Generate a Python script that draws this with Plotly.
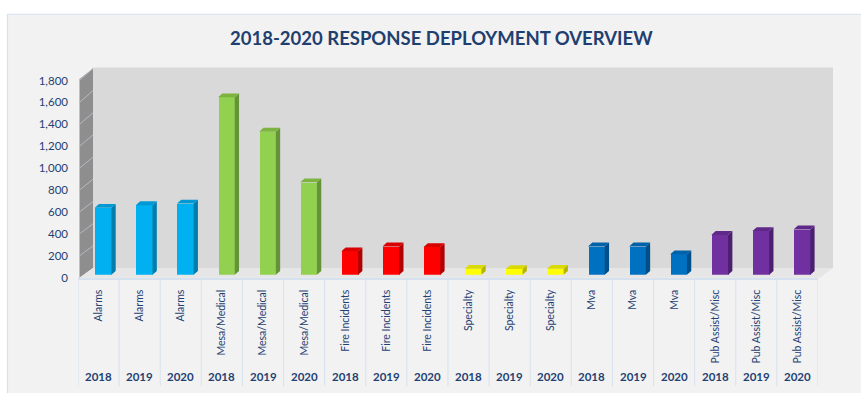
import plotly.graph_objects as go

# ---- data ----
groups = ["Alarms", "Mesa/Medical", "Fire Incidents", "Specialty", "Mva", "Pub Assist/Misc"]
years = ["2018", "2019", "2020"]
alarms = [609, 633, 648]
mesa_medical = [1614, 1301, 841]
fire_incidents = [214, 258, 252]
specialty = [55, 52, 55]
mva = [258, 258, 187]
pub_assist_misc = [363, 398, 413]
y_ticks = [0, 200, 400, 600, 800, 1000, 1200, 1400, 1600, 1800]

series = [alarms, mesa_medical, fire_incidents, specialty, mva, pub_assist_misc]
# front / top / side face colours per group
palette = [
    ("#00B0F0", "#0099D3", "#007DAD"),
    ("#92D050", "#7DB43F", "#65933A"),
    ("#FF0000", "#D90000", "#B00000"),
    ("#FFFF00", "#DADA00", "#B5B500"),
    ("#0070C0", "#0062A8", "#004F88"),
    ("#7030A0", "#5F2889", "#4C206E"),
]

cat_labels, year_labels, vals, fronts, tops, sides = [], [], [], [], [], []
for g, s, (cf, ct, cs) in zip(groups, series, palette):
    for yr, v in zip(years, s):
        cat_labels.append(g)
        year_labels.append(yr)
        vals.append(v)
        fronts.append(cf)
        tops.append(ct)
        sides.append(cs)
n = len(vals)
idx = list(range(n))

# ---- page geometry (pixels) ----
W, H = 861, 393
FONT = "Lato"
LABEL = "#1F4173"


def fx(p):
    return p / W


def fy(p):
    return 1 - p / H


front_x = (78, 818)
front_y = (280, 76)     # pixel rows of 0 and 1800 at the front edge
back_x = (93, 833)
back_y = (270, 63.5)
bar_x = (82.5, 822.5)
bar_y = (277, 72.2)

slot_px = (front_x[1] - front_x[0]) / n
bar_w = 16.7 / slot_px
depth_dx = 4.3 / slot_px
depth_dy = 4.0 / ((bar_y[0] - bar_y[1]) / 1800)

fig = go.Figure()

# front faces of the columns
fig.add_trace(go.Bar(
    x=idx, y=vals, width=bar_w, marker=dict(color=fronts, line=dict(width=0)),
    xaxis="x3", yaxis="y3", hoverinfo="skip", showlegend=False,
))

# side and top faces
for i, v in zip(idx, vals):
    r = i + bar_w / 2
    l = i - bar_w / 2
    fig.add_trace(go.Scatter(
        x=[r, r + depth_dx, r + depth_dx, r, r],
        y=[0, depth_dy, v + depth_dy, v, 0],
        fill="toself", fillcolor=sides[i], mode="lines", line=dict(width=0),
        xaxis="x3", yaxis="y3", hoverinfo="skip", showlegend=False,
    ))
    fig.add_trace(go.Scatter(
        x=[l, r, r + depth_dx, l + depth_dx, l],
        y=[v, v, v + depth_dy, v + depth_dy, v],
        fill="toself", fillcolor=tops[i], mode="lines", line=dict(width=0),
        xaxis="x3", yaxis="y3", hoverinfo="skip", showlegend=False,
    ))

shapes = [
    # chart area
    dict(type="rect", xref="paper", yref="paper", x0=fx(7.5), x1=fx(900), y0=fy(400), y1=fy(7.5),
         fillcolor="#F2F2F2", line=dict(color="#D6E1EF", width=1.2), layer="below"),
    # back wall
    dict(type="rect", xref="paper", yref="paper", x0=fx(back_x[0]), x1=fx(back_x[1]),
         y0=fy(back_y[0]), y1=fy(back_y[1] - 1), fillcolor="#D9D9D9", line=dict(width=0), layer="below"),
    # left side wall
    dict(type="path", xref="paper", yref="paper", layer="below", fillcolor="#8E8E8E", line=dict(width=0),
         path=f"M {fx(79.5)},{fy(front_y[0])} L {fx(back_x[0])},{fy(back_y[0])} "
              f"L {fx(back_x[0])},{fy(back_y[1])} L {fx(79.5)},{fy(front_y[1] - 1.5)} Z"),
    # floor
    dict(type="path", xref="paper", yref="paper", layer="below", fillcolor="#E6E6E6", line=dict(width=0),
         path=f"M {fx(79.5)},{fy(front_y[0])} L {fx(back_x[0])},{fy(back_y[0])} "
              f"L {fx(back_x[1])},{fy(back_y[0])} L {fx(front_x[1] + 2)},{fy(front_y[0])} Z"),
]
# grid lines running across the side wall
for t in y_ticks[1:]:
    yf = front_y[0] + (front_y[1] - front_y[0]) * t / 1800
    yb = back_y[0] + (back_y[1] - back_y[0]) * t / 1800
    shapes.append(dict(type="line", xref="paper", yref="paper", layer="below",
                       x0=fx(79.5), y0=fy(yf), x1=fx(back_x[0]), y1=fy(yb),
                       line=dict(color="#B4B9C2", width=1)))
# category dividers under the axis
for b in range(n + 1):
    shapes.append(dict(type="line", xref="x", yref="paper", x0=b - 0.5, x1=b - 0.5,
                       y0=fy(392), y1=fy(280), line=dict(color="#D6E1EF", width=1)))

annotations = [
    dict(text="<b>2018-2020 RESPONSE DEPLOYMENT OVERVIEW</b>", xref="paper", yref="paper",
         x=fx(441), y=fy(32), xanchor="center", yanchor="middle", showarrow=False,
         font=dict(family=FONT, size=18.5, color="#1F3F6F")),
]
for i, yr in zip(idx, year_labels):
    annotations.append(dict(text=f"<b>{yr}</b>", xref="x", yref="paper", x=i, y=fy(382.5),
                            xanchor="center", yanchor="middle", showarrow=False,
                            font=dict(family=FONT, size=11.5, color=LABEL)))

fig.update_layout(
    width=W, height=H, margin=dict(l=0, r=0, t=0, b=0),
    paper_bgcolor="white", plot_bgcolor="rgba(0,0,0,0)",
    font=dict(family=FONT, color=LABEL),
    showlegend=False, bargap=0,
    shapes=shapes, annotations=annotations,
    xaxis=dict(domain=[fx(front_x[0]), fx(front_x[1])], range=[-0.5, n - 0.5], anchor="y",
               tickmode="array", tickvals=idx, ticktext=cat_labels, tickangle=-90,
               tickfont=dict(family=FONT, size=10.5, color=LABEL), ticks="", ticklabelstandoff=6,
               showgrid=False, zeroline=False, showline=True, linecolor="#D6E1EF", linewidth=1.5,
               fixedrange=True),
    yaxis=dict(domain=[fy(front_y[0]), fy(front_y[1])], range=[0, 1800], anchor="x",
               tickmode="array", tickvals=y_ticks, tickformat=",",
               tickfont=dict(family=FONT, size=11.5, color=LABEL), ticks="", ticklabelstandoff=9,
               showgrid=False, zeroline=False, showline=False, fixedrange=True),
    xaxis2=dict(domain=[fx(back_x[0]), fx(back_x[1])], range=[-0.5, n - 0.5], anchor="y2",
                visible=False, fixedrange=True),
    yaxis2=dict(domain=[fy(back_y[0]), fy(back_y[1])], range=[0, 1800], anchor="x2",
                tickmode="array", tickvals=y_ticks, showticklabels=False, ticks="",
                showgrid=True, gridcolor="#DCE6F2", gridwidth=1.5, zeroline=False,
                showline=False, fixedrange=True),
    xaxis3=dict(domain=[fx(bar_x[0]), fx(bar_x[1])], range=[-0.5, n - 0.5], anchor="y3",
                visible=False, fixedrange=True),
    yaxis3=dict(domain=[fy(bar_y[0]), fy(bar_y[1])], range=[0, 1800], anchor="x3",
                visible=False, fixedrange=True),
)

fig.write_html("out.html")
